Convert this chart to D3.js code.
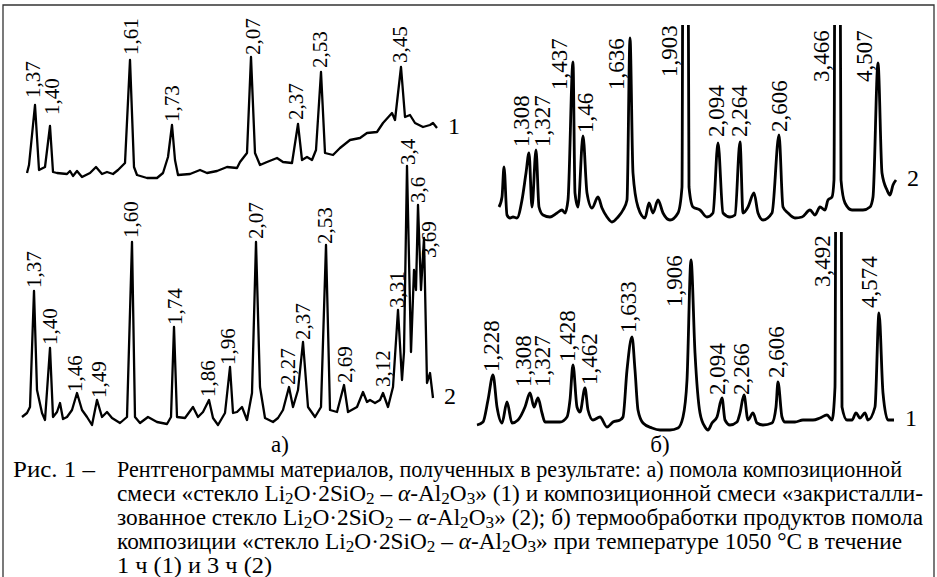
<!DOCTYPE html>
<meta charset="utf-8">
<script src="https://d3js.org/d3.v7.min.js"></script>
<style>
  body { margin: 0; background: #fff; }
</style>
<div id="fig"></div>
<script>

// ---- data: diffractograms (position, intensity) ----

// a), curve 1
var a1 = [[7,5],[9,13],[15,73],[19,8],[25,11],[30,52],[33,6],[37,5],[47,4],[50,7],[53,2],[57,7],[62,1],[70,5],[76,11],[82,4],[87,6],[93,4],[98,8],[105,15],[110,118],[114,11],[117,3],[127,0],[137,0],[143,5],[148,21],[152,53],[155,18],[158,3],[170,4],[180,8],[187,5],[197,7],[207,11],[217,10],[220,16],[227,25],[231,121],[235,25],[240,13],[247,16],[257,20],[263,16],[272,15],[278,54],[282,18],[287,21],[292,18],[296,28],[301,106],[305,25],[313,23],[320,30],[330,38],[340,40],[347,45],[357,46],[363,55],[372,65],[375,58],[381,111],[385,61],[390,63],[395,55],[403,51],[410,53],[413,55],[417,50]];
var a1Peaks = [["1,37",13,80],["1,40",32,63],["1,61",111,123],["1,73",152,56],["2,07",233,123],["2,37",276,58],["2,53",300,110],["3,45",380,115]];

// a), curve 2
var a2 = [[2,8],[7,12],[10,18],[14,134],[17,35],[22,12],[25,5],[30,77],[33,8],[37,13],[40,22],[43,6],[47,8],[52,15],[57,32],[62,15],[67,8],[72,0],[77,25],[82,8],[87,13],[92,7],[100,2],[107,8],[112,183],[115,8],[120,2],[128,8],[137,3],[147,1],[151,8],[154,98],[157,8],[165,7],[173,18],[178,8],[183,13],[189,25],[193,7],[198,0],[205,12],[210,58],[213,12],[217,13],[222,18],[227,5],[232,32],[236,183],[240,38],[245,7],[253,3],[258,7],[263,15],[269,38],[273,18],[278,35],[283,83],[288,18],[295,8],[301,18],[306,180],[310,15],[317,13],[324,40],[328,13],[337,18],[343,33],[347,23],[350,25],[355,22],[360,25],[363,32],[368,18],[373,38],[378,115],[382,45],[384,73],[387,259],[391,73],[394,155],[396,135],[398,220],[401,135],[404,187],[407,42],[410,52],[413,27]];
var a2Peaks = [["1,37",14,137],["1,40",30,80],["1,46",55,33],["1,49",79,27],["1,60",111,187],["1,74",155,100],["1,86",188,28],["1,96",208,60],["2,07",236,186],["2,27",268,40],["2,37",283,85],["2,53",305,181],["2,69",325,42],["3,12",363,38],["3,31",377,117],["3,4",388,260],["3,6",398,222],["3,69",409,167]];

// б), curve 2 (3 h)
var b2 = [[29,13],[32,23],[34,53],[37,5],[40,2],[43,3],[47,2],[52,20],[56,47],[59,67],[62,13],[66,70],[69,13],[73,5],[80,3],[87,7],[92,10],[95,7],[98,20],[103,158],[105,27],[108,13],[113,84],[117,27],[122,12],[128,23],[132,12],[137,3],[142,-2],[148,3],[153,10],[157,20],[160,182],[163,47],[168,13],[175,2],[179,17],[183,7],[188,20],[193,7],[200,0],[208,7],[212,33],[213,300],[218,300],[219,33],[223,13],[230,10],[237,3],[243,7],[248,77],[253,7],[260,3],[265,5],[270,78],[273,7],[278,13],[284,27],[288,7],[293,0],[302,7],[309,85],[313,13],[318,7],[325,2],[332,3],[340,10],[345,5],[350,13],[355,10],[358,20],[362,23],[364,40],[365,300],[370,300],[371,40],[375,17],[382,10],[393,10],[400,13],[403,23],[408,157],[412,47],[417,30],[420,25],[423,35],[426,40]];
var b2Peaks = [["1,308",51,73],["1,327",72,73],["1,437",89,130],["1,46",115,87],["1,636",146,130],["1,903",199,143],["2,094",246,83],["2,264",269,83],["2,606",309,88],["3,466",351,138],["4,507",394,138]];

// б), curve 1 (1 h)
var b1 = [[7,7],[13,10],[18,32],[23,57],[27,25],[32,9],[37,30],[42,9],[48,12],[55,25],[60,39],[64,25],[68,34],[72,19],[75,10],[83,10],[90,10],[97,15],[100,32],[103,67],[107,25],[110,20],[115,44],[118,22],[123,12],[130,15],[137,5],[143,10],[150,12],[153,15],[157,62],[162,95],[165,62],[168,22],[173,9],[182,4],[190,2],[200,2],[208,4],[213,15],[217,52],[221,172],[225,79],[230,19],[235,5],[238,2],[242,9],[247,15],[252,34],[255,12],[260,7],[267,10],[270,19],[274,37],[278,12],[283,19],[287,9],[293,7],[302,9],[306,25],[308,50],[312,15],[315,10],[325,10],[333,12],[343,12],[350,14],[357,17],[362,12],[365,45],[366,300],[371,300],[372,25],[377,12],[382,12],[386,19],[390,14],[395,19],[398,12],[405,25],[409,119],[413,39],[418,12],[424,12]];
var b1Peaks = [["1,228",21,60],["1,308",53,45],["1,327",72,45],["1,428",97,70],["1,462",119,47],["1,633",158,99],["1,906",204,125],["2,094",247,37],["2,266",271,37],["2,606",306,54],["3,492",352,145],["4,574",399,124]];

var panelNames = ["а)", "б)"];

var captionHead = "Рис. 1 –";
// [text, style] pieces; style: "" normal, "s" subscript, "i" italic
var captionLines = [
  [["Рентгенограммы материалов, полученных в результате: а) помола композиционной",""]],
  [["смеси «стекло Li",""],["2","s"],["O·2SiO",""],["2","s"],[" – ",""],["α","i"],["-Al",""],["2","s"],["O",""],["3","s"],["» (1) и композиционной смеси «закристалли-",""]],
  [["зованное стекло Li",""],["2","s"],["O·2SiO",""],["2","s"],[" – ",""],["α","i"],["-Al",""],["2","s"],["O",""],["3","s"],["» (2); б) термообработки продуктов помола",""]],
  [["композиции «стекло Li",""],["2","s"],["O·2SiO",""],["2","s"],[" – ",""],["α","i"],["-Al",""],["2","s"],["O",""],["3","s"],["» при температуре 1050 °С в течение",""]],
  [["1 ч (1) и 3 ч (2)",""]]
];
var captionRight = [902, 923, 923, 902, 272];

// ---- drawing ----
var W = 937, H = 577;
var serif = "Liberation Serif";

var svg = d3.select("#fig").append("svg")
  .attr("width", W).attr("height", H)
  .attr("font-family", serif);

svg.append("rect").attr("width", W).attr("height", H).attr("fill", "#fff");

// frame (no bottom edge visible)
svg.append("path")
  .attr("d", "M3,577 V5 H934 V577")
  .attr("fill", "none").attr("stroke", "#333").attr("stroke-width", 1.3);

// scales
var xA = d3.scaleLinear().domain([0, 420]).range([20, 440]);
var yA1 = d3.scaleLinear().domain([0, 130]).range([178, 48]);
var yA2 = d3.scaleLinear().domain([0, 270]).range([425, 155]);
var xB = d3.scaleLinear().domain([0, 450]).range([470, 920]);
var yB2 = d3.scaleLinear().domain([0, 200]).range([220, 20]);
var yB1 = d3.scaleLinear().domain([0, 200]).range([432, 232]);

var defs = svg.append("defs");
defs.append("clipPath").attr("id", "clipB2")
  .append("rect").attr("x", 460).attr("y", 25).attr("width", 470).attr("height", 205);
defs.append("clipPath").attr("id", "clipB1")
  .append("rect").attr("x", 460).attr("y", 232).attr("width", 470).attr("height", 210);

function drawTrace(data, peaks, x, y, num, o) {
  var g = svg.append("g");
  var line = d3.line()
    .x(function(d){ return x(d[0]); })
    .y(function(d){ return y(d[1]); })
    .curve(o.curve);

  g.append("path")
    .datum(data)
    .attr("d", line)
    .attr("fill", "none")
    .attr("stroke", "#000")
    .attr("stroke-width", o.sw)
    .attr("stroke-linejoin", "round")
    .attr("clip-path", o.clip ? "url(#" + o.clip + ")" : null);

  g.selectAll(".pk")
    .data(peaks)
    .enter()
    .append("text")
      .attr("transform", function(d){ return "translate(" + x(d[1]) + "," + y(d[2]) + ") rotate(-90)"; })
      .attr("dy", "0.35em")
      .attr("font-family", serif)
      .attr("font-size", o.fs)
      .text(function(d){ return d[0]; });

  var last = data[data.length - 1];
  g.append("text")
    .attr("x", x(last[0]) + 11)
    .attr("y", y(last[1]) + 6)
    .attr("font-family", serif)
    .attr("font-size", 24)
    .text(num);
}

drawTrace(a1, a1Peaks, xA, yA1, "1", {sw: 2.3, fs: 21, curve: d3.curveLinear});
drawTrace(a2, a2Peaks, xA, yA2, "2", {sw: 2.3, fs: 21, curve: d3.curveLinear});
drawTrace(b2, b2Peaks, xB, yB2, "2", {sw: 2.8, fs: 23, curve: d3.curveMonotoneX, clip: "clipB2"});
drawTrace(b1, b1Peaks, xB, yB1, "1", {sw: 2.8, fs: 23, curve: d3.curveMonotoneX, clip: "clipB1"});

// panel letters
svg.selectAll(".pn")
  .data(panelNames)
  .enter()
  .append("text")
    .attr("x", function(d, i){ return i === 0 ? 280 : 660; })
    .attr("y", 452)
    .attr("text-anchor", "middle")
    .attr("font-family", serif)
    .attr("font-size", 23)
    .text(function(d){ return d; });

// caption
svg.append("text")
  .attr("x", 13).attr("y", 477)
  .attr("textLength", 82).attr("lengthAdjust", "spacingAndGlyphs")
  .attr("font-family", serif)
  .attr("font-size", 23)
  .text(captionHead);

captionLines.forEach(function(parts, i) {
  var t = svg.append("text")
    .attr("x", 117)
    .attr("y", 477 + i * 24)
    .attr("textLength", captionRight[i] - 117)
    .attr("lengthAdjust", "spacingAndGlyphs")
    .attr("font-family", serif)
    .attr("font-size", 23);
  var shifted = false;
  parts.forEach(function(p) {
    var s = t.append("tspan").text(p[0]);
    if (p[1] === "s") {
      s.attr("dy", shifted ? 0 : 3).attr("font-size", 17);
      shifted = true;
    } else {
      if (shifted) s.attr("dy", -3);
      shifted = false;
      if (p[1] === "i") s.attr("font-style", "italic");
    }
  });
});

</script>
